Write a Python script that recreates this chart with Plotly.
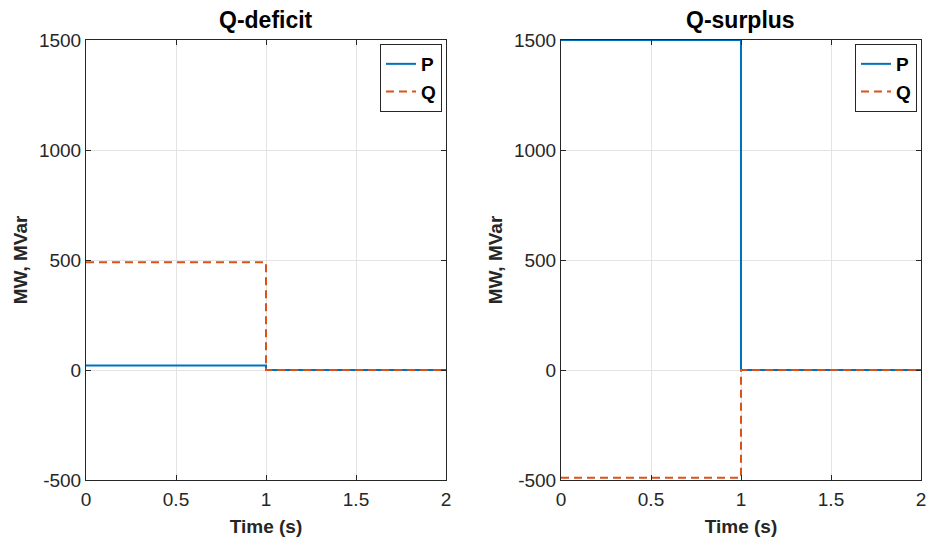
import plotly.graph_objects as go

# Step profiles of active (P) and reactive (Q) power, MW / MVar
time_s = [0, 1, 2]
deficit_p = [20, 0, 0]
deficit_q = [490, 0, 0]
surplus_p = [1500, 0, 0]
surplus_q = [-490, 0, 0]

panel_titles = ["Q-deficit", "Q-surplus"]
x_ticks = [0, 0.5, 1, 1.5, 2]
x_tick_text = ["0", "0.5", "1", "1.5", "2"]
y_ticks = [-500, 0, 500, 1000, 1500]
y_tick_text = ["-500", "0", "500", "1000", "1500"]

BLUE = "#0072BD"
ORANGE = "#D95319"
AXIS = "#262626"
FONT = "Liberation Sans, Arial, Helvetica, sans-serif"

W, H = 928, 541
x_domains = [(86 / W, 446 / W), (561 / W, 921 / W)]
y_domain = (1 - 480 / H, 1 - 40 / H)

fig = go.Figure()

panels = [(deficit_p, deficit_q), (surplus_p, surplus_q)]
for i, (p_vals, q_vals) in enumerate(panels):
    xa = "x" if i == 0 else "x2"
    ya = "y" if i == 0 else "y2"
    lg = "legend" if i == 0 else "legend2"
    fig.add_trace(go.Scatter(
        x=time_s, y=p_vals, name="P", mode="lines", line_shape="hv",
        line=dict(color=BLUE, width=2), xaxis=xa, yaxis=ya, legend=lg))
    fig.add_trace(go.Scatter(
        x=time_s, y=q_vals, name="Q", mode="lines", line_shape="hv",
        line=dict(color=ORANGE, width=2, dash="8px,5px"), xaxis=xa, yaxis=ya, legend=lg))

axis_common = dict(
    showline=True, mirror="ticks", linecolor=AXIS, linewidth=1,
    ticks="inside", ticklen=5, tickcolor=AXIS, automargin=False,
    showgrid=True, gridcolor="#e3e3e3", gridwidth=1, zeroline=False,
    tickfont=dict(family=FONT, size=19, color=AXIS),
)

for i in range(2):
    sfx = "" if i == 0 else "2"
    fig.layout["xaxis" + sfx] = dict(
        axis_common, domain=x_domains[i], range=[0, 2],
        tickvals=x_ticks, ticktext=x_tick_text, anchor="y" + sfx,
        ticklabelstandoff=2,
        title=dict(text="<b>Time (s)</b>", font=dict(family=FONT, size=19, color=AXIS), standoff=10),
    )
    fig.layout["yaxis" + sfx] = dict(
        axis_common, domain=y_domain, range=[-500, 1500],
        tickvals=y_ticks, ticktext=y_tick_text, anchor="x" + sfx,
        title=dict(text="<b>MW, MVar</b>", font=dict(family=FONT, size=19, color=AXIS), standoff=6),
    )
    xc = (x_domains[i][0] + x_domains[i][1]) / 2
    fig.add_annotation(
        text="<b>" + panel_titles[i] + "</b>", x=xc, y=1 - 20 / H,
        xref="paper", yref="paper", xanchor="center", yanchor="middle",
        showarrow=False, font=dict(family=FONT, size=23, color="black"))

legend_common = dict(
    xanchor="right", yanchor="top", bgcolor="white",
    bordercolor=AXIS, borderwidth=1, itemwidth=30,
    font=dict(family=FONT, size=19, color="black", weight="bold"),
    tracegroupgap=0,
)
fig.update_layout(
    legend=dict(legend_common, x=442 / W, y=1 - 44 / H),
    legend2=dict(legend_common, x=917 / W, y=1 - 44 / H),
    width=W, height=H,
    margin=dict(l=0, r=0, t=0, b=0),
    paper_bgcolor="white", plot_bgcolor="white",
    showlegend=True,
)

fig.write_html("out.html")
